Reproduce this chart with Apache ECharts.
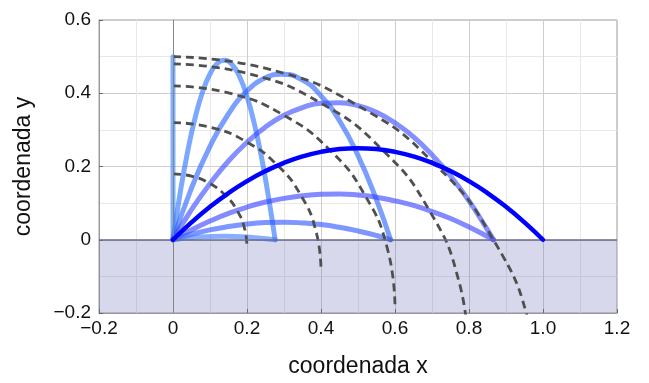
<!DOCTYPE html>
<html>
<head>
<meta charset="utf-8">
<script src="https://cdn.jsdelivr.net/npm/echarts@6/dist/echarts.min.js"></script>
<style>
  html, body { margin: 0; padding: 0; background: #fff; }
  #chart { width: 649px; height: 383px; }
</style>
</head>
<body>
<div id="chart"></div>
<script>
const xTickLabels = ['\u22120.2', '0', '0.2', '0.4', '0.6', '0.8', '1.0', '1.2']
const yTickLabels = ['\u22120.2', '0', '0.2', '0.4', '0.6']

// trajectories (launch angle in the name)
const path90 = [[0, 0], [0, 0.5]]
const path82 = [[0, 0], [0.02, 0.132], [0.04, 0.243], [0.06, 0.334], [0.08, 0.404], [0.1, 0.453], [0.12, 0.482], [0.138, 0.49], [0.16, 0.478], [0.18, 0.445], [0.2, 0.391], [0.22, 0.316], [0.24, 0.221], [0.26, 0.105], [0.276, 0]]
const path72 = [[0, 0], [0.05, 0.141], [0.1, 0.255], [0.15, 0.344], [0.2, 0.406], [0.25, 0.442], [0.294, 0.452], [0.35, 0.436], [0.4, 0.393], [0.45, 0.325], [0.5, 0.23], [0.55, 0.109], [0.588, 0]]
const path60 = [[0, 0], [0.05, 0.082], [0.1, 0.153], [0.15, 0.215], [0.2, 0.266], [0.25, 0.308], [0.3, 0.34], [0.35, 0.361], [0.4, 0.373], [0.45, 0.374], [0.5, 0.366], [0.55, 0.348], [0.6, 0.319], [0.65, 0.281], [0.7, 0.232], [0.75, 0.174], [0.8, 0.106], [0.85, 0.027], [0.866, 0]]
const path45 = [[0, 0], [0.05, 0.0475], [0.1, 0.09], [0.15, 0.1275], [0.2, 0.16], [0.25, 0.1875], [0.3, 0.21], [0.35, 0.2275], [0.4, 0.24], [0.45, 0.2475], [0.5, 0.25], [0.55, 0.2475], [0.6, 0.24], [0.65, 0.2275], [0.7, 0.21], [0.75, 0.1875], [0.8, 0.16], [0.85, 0.1275], [0.9, 0.09], [0.95, 0.0475], [1.0, 0]]
const path30 = [[0, 0], [0.05, 0.027], [0.1, 0.051], [0.15, 0.072], [0.2, 0.089], [0.25, 0.103], [0.3, 0.113], [0.35, 0.12], [0.4, 0.124], [0.45, 0.125], [0.5, 0.122], [0.55, 0.116], [0.6, 0.106], [0.65, 0.094], [0.7, 0.077], [0.75, 0.058], [0.8, 0.035], [0.85, 0.009], [0.866, 0]]
const path18 = [[0, 0], [0.05, 0.015], [0.1, 0.027], [0.15, 0.036], [0.2, 0.043], [0.25, 0.047], [0.3, 0.048], [0.35, 0.046], [0.4, 0.0415], [0.45, 0.034], [0.5, 0.024], [0.55, 0.0115], [0.588, 0]]
const path8 = [[0, 0], [0.07, 0.0073], [0.138, 0.0097], [0.2, 0.0077], [0.276, 0]]

// dashed equal-time arcs
const arc02 = [[0, 0.18], [0.0518, 0.1732], [0.1, 0.1532], [0.1414, 0.1214], [0.1732, 0.08], [0.1932, 0.0318], [0.2, -0.02]]
const arc04 = [[0, 0.32], [0.1035, 0.3064], [0.2, 0.2664], [0.2828, 0.2028], [0.3464, 0.12], [0.3864, 0.0235], [0.4, -0.08]]
const arc06 = [[0, 0.42], [0.1553, 0.3996], [0.3, 0.3396], [0.4243, 0.2443], [0.5196, 0.12], [0.5796, -0.0247], [0.6, -0.18]]
const arc08 = [[0, 0.48], [0.2071, 0.4527], [0.4, 0.3728], [0.5657, 0.2457], [0.6928, 0.08], [0.7727, -0.113], [0.8, -0.32]]
const arc10 = [[0, 0.5], [0.2588, 0.4659], [0.5, 0.366], [0.7071, 0.2071], [0.866, 0], [0.9659, -0.2412], [1.0, -0.5]]

const chart = echarts.init(document.getElementById('chart'))

const axisFont = { fontFamily: 'Liberation Sans, Arial, sans-serif', color: '#111' }

const pathSeries = (data, color, width, z) => ({
  type: 'line',
  data,
  smooth: true,
  showSymbol: false,
  silent: true,
  z,
  lineStyle: { color, width, cap: 'round', join: 'round' },
})

const arcSeries = (data) => ({
  type: 'line',
  data,
  smooth: true,
  showSymbol: false,
  silent: true,
  z: 4,
  lineStyle: { color: '#4f4f4f', width: 2.8, type: [8, 5] },
})

chart.setOption({
  animation: false,
  grid: {
    left: 99, right: 32, top: 20, bottom: 67,
    show: true, borderColor: '#9a9a9a', borderWidth: 1,
  },
  xAxis: {
    type: 'value',
    min: -0.2, max: 1.2, interval: 0.2,
    name: 'coordenada x',
    nameLocation: 'middle',
    nameGap: 42,
    nameTextStyle: { ...axisFont, fontSize: 23 },
    axisLine: { onZero: false, lineStyle: { color: '#9a9a9a' } },
    axisTick: { inside: true, length: 4, lineStyle: { color: '#666' } },
    axisLabel: {
      ...axisFont, fontSize: 19, margin: 6,
      formatter: (v) => xTickLabels[Math.round((v + 0.2) / 0.2)],
    },
    splitLine: { lineStyle: { color: '#cdcdcd', width: 1 } },
    minorTick: { show: false, splitNumber: 2 },
    minorSplitLine: { show: true, lineStyle: { color: '#e8e8e8', width: 1 } },
  },
  yAxis: {
    type: 'value',
    min: -0.2, max: 0.6, interval: 0.2,
    name: 'coordenada y',
    nameLocation: 'middle',
    nameGap: 64,
    nameRotate: 90,
    nameTextStyle: { ...axisFont, fontSize: 23 },
    axisLine: { show: true, onZero: false, lineStyle: { color: '#9a9a9a' } },
    axisTick: { show: true, inside: true, length: 4, lineStyle: { color: '#666' } },
    axisLabel: {
      ...axisFont, fontSize: 19, margin: 8,
      formatter: (v) => yTickLabels[Math.round((v + 0.2) / 0.2)],
    },
    splitLine: { lineStyle: { color: '#cdcdcd', width: 1 } },
    minorTick: { show: false, splitNumber: 2 },
    minorSplitLine: { show: true, lineStyle: { color: '#e8e8e8', width: 1 } },
  },
  series: [
    {
      type: 'line',
      data: [],
      silent: true,
      z: 1,
      markArea: {
        silent: true,
        itemStyle: { color: 'rgba(110, 110, 185, 0.27)' },
        data: [[{ yAxis: -0.2 }, { yAxis: 0 }]],
      },
      markLine: {
        silent: true,
        symbol: 'none',
        label: { show: false },
        data: [
          { xAxis: 0, lineStyle: { color: '#858585', width: 1, type: 'solid' } },
          { yAxis: 0, lineStyle: { color: '#6c6c8e', width: 1.5, type: 'solid' } },
        ],
      },
    },
    pathSeries(path90, 'rgba(60, 135, 255, 0.65)', 5, 3),
    pathSeries(path82, 'rgba(45, 115, 255, 0.62)', 5, 3),
    pathSeries(path72, 'rgba(40, 100, 255, 0.62)', 5, 3),
    pathSeries(path60, 'rgba(50, 70, 255, 0.6)', 5, 3),
    pathSeries(path30, 'rgba(50, 60, 255, 0.6)', 5, 3),
    pathSeries(path18, 'rgba(40, 80, 255, 0.6)', 5, 3),
    pathSeries(path8, 'rgba(60, 120, 255, 0.6)', 5, 3),
    arcSeries(arc02),
    arcSeries(arc04),
    arcSeries(arc06),
    arcSeries(arc08),
    arcSeries(arc10),
    pathSeries(path45, '#0000ff', 4.5, 5),
  ],
})
</script>
</body>
</html>
